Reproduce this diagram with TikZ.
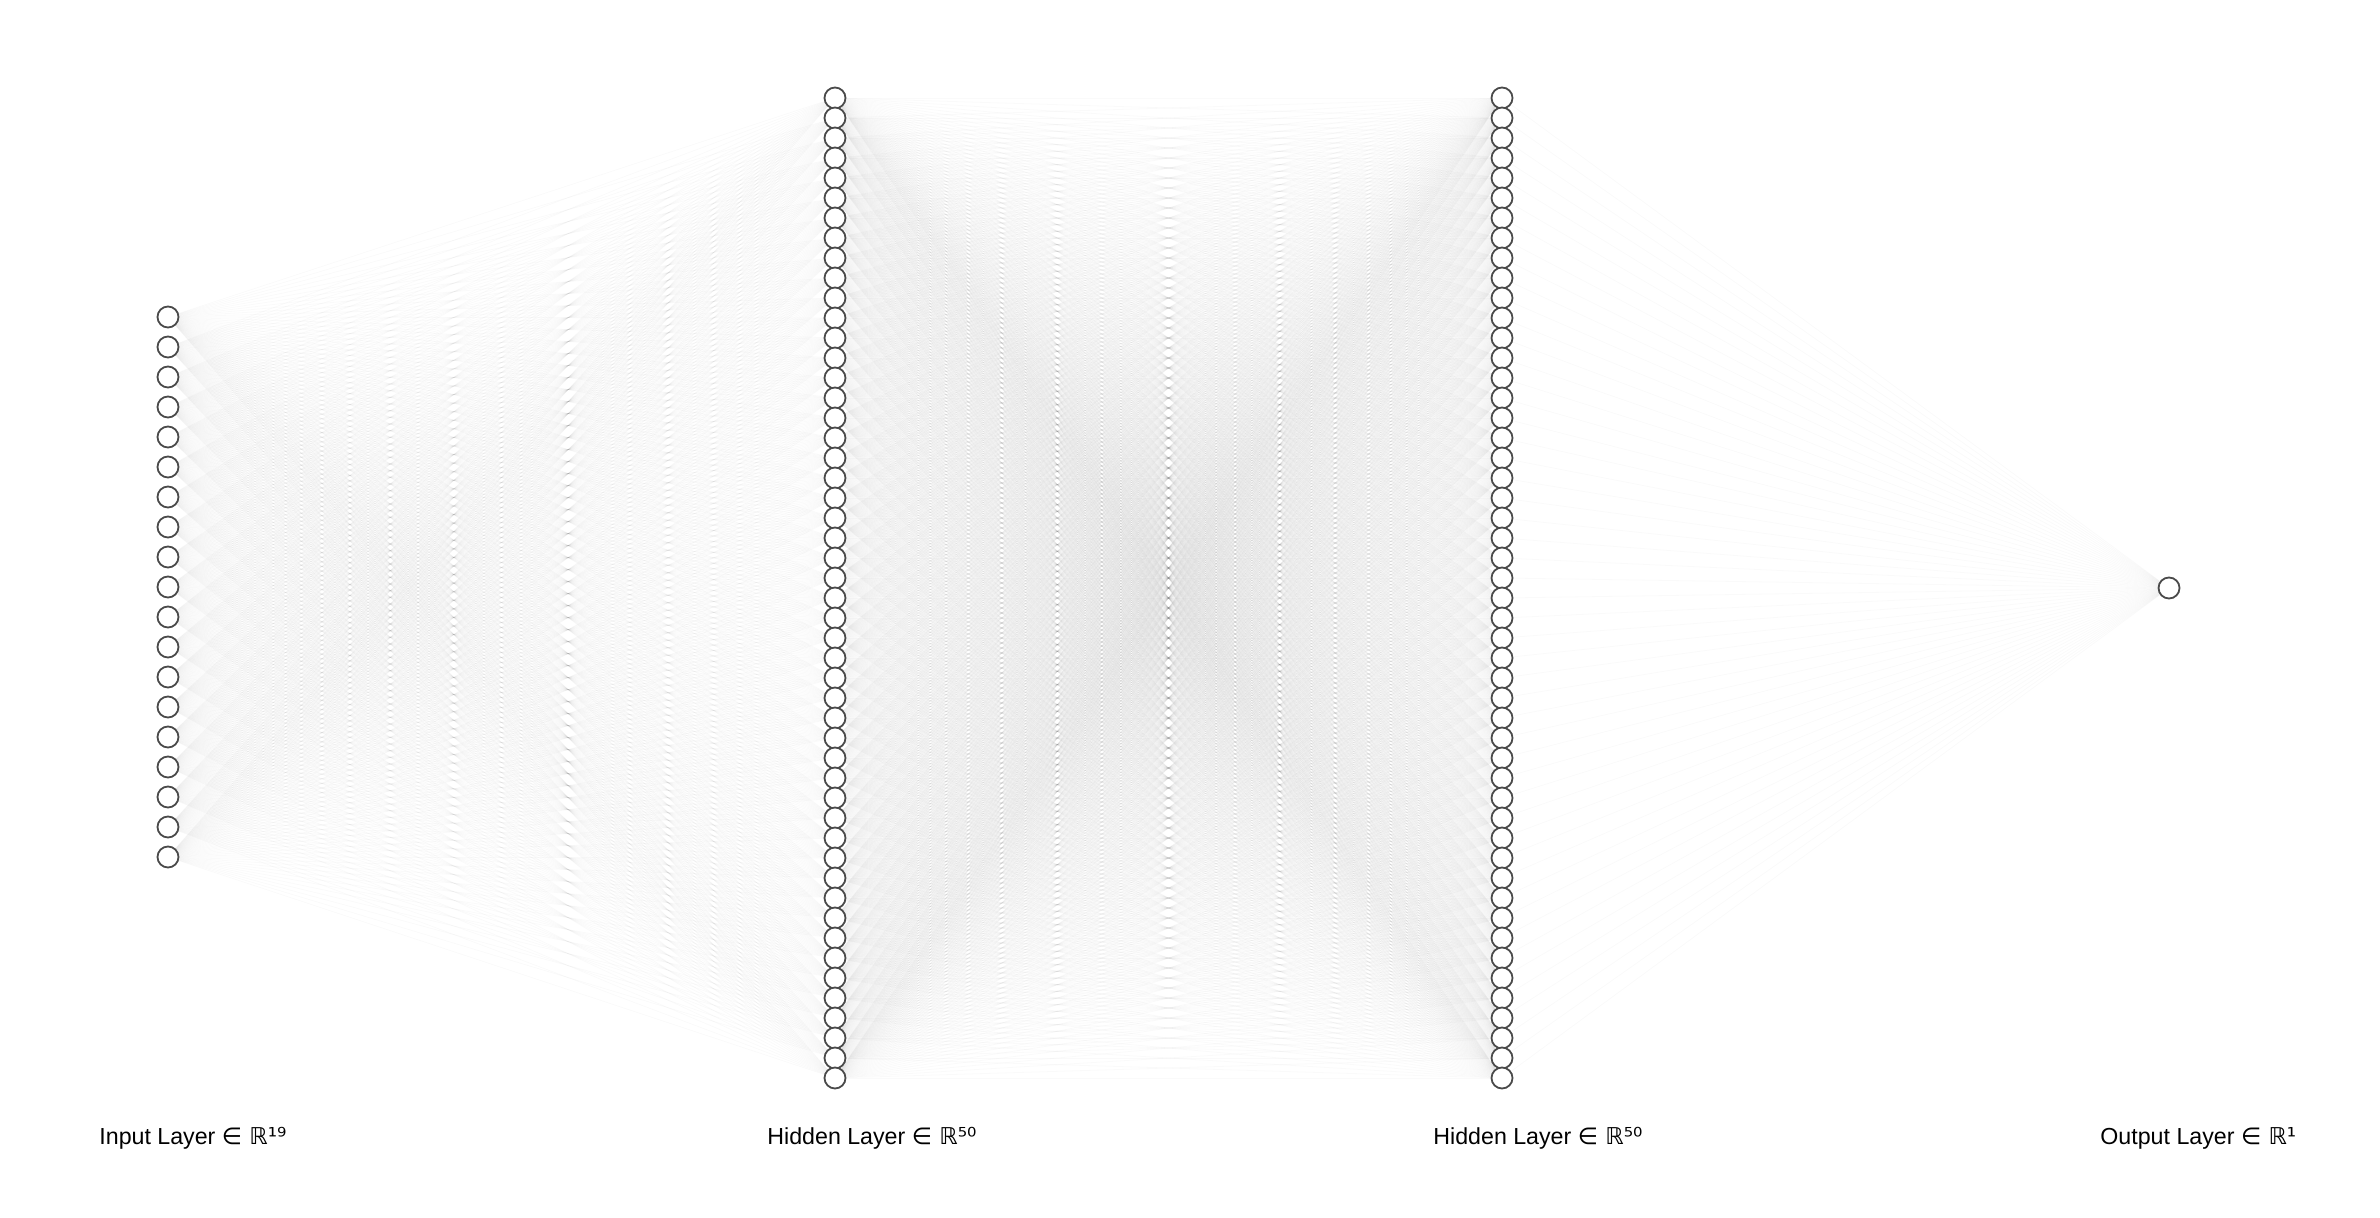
\documentclass[tikz,border=0pt]{standalone}
\usepackage{fontspec}
\setmainfont{Liberation Sans}
\newfontfamily\djsans{DejaVu Sans}
\usetikzlibrary{backgrounds}
\definecolor{nodegray}{HTML}{4A4A4A}
\tikzset{
  neuron/.style={circle, draw=nodegray, line width=0.9pt, fill=white, minimum size=10.5pt, inner sep=0pt},
  edge/.style={draw=black, line width=0.4pt, opacity=0.018},
  layerlabel/.style={anchor=base west, inner sep=0pt, font=\fontsize{11.6}{14}\selectfont}
}
\begin{document}
\begin{tikzpicture}[x=0.5pt, y=-0.5pt]
\useasboundingbox (0,0) rectangle (2380,1218);
% nodes
\foreach \i in {1,...,19} {
  \node[neuron] (I\i) at (168, {317+30*(\i-1)}) {};
}
\foreach \j in {1,...,50} {
  \node[neuron] (A\j) at (835, {98+20*(\j-1)}) {};
  \node[neuron] (B\j) at (1502, {98+20*(\j-1)}) {};
}
\node[neuron] (O1) at (2169, 588) {};
% edges
\begin{pgfonlayer}{background}
\foreach \i in {1,...,19} {
  \foreach \j in {1,...,50} {
    \draw[edge] (I\i) -- (A\j);
  }
}
\foreach \i in {1,...,50} {
  \foreach \j in {1,...,50} {
    \draw[edge] (A\i) -- (B\j);
  }
  \draw[edge] (B\i) -- (O1);
}
\end{pgfonlayer}
% labels
\node[layerlabel] (L1) at (99,1144) {Input Layer {\djsans ∈ ℝ¹⁹}};
\node[layerlabel] (L2) at (767,1144) {Hidden Layer {\djsans ∈ ℝ⁵⁰}};
\node[layerlabel] (L3) at (1433,1144) {Hidden Layer {\djsans ∈ ℝ⁵⁰}};
\node[layerlabel] (L4) at (2100,1144) {Output Layer {\djsans ∈ ℝ¹}};
\end{tikzpicture}
\end{document}
